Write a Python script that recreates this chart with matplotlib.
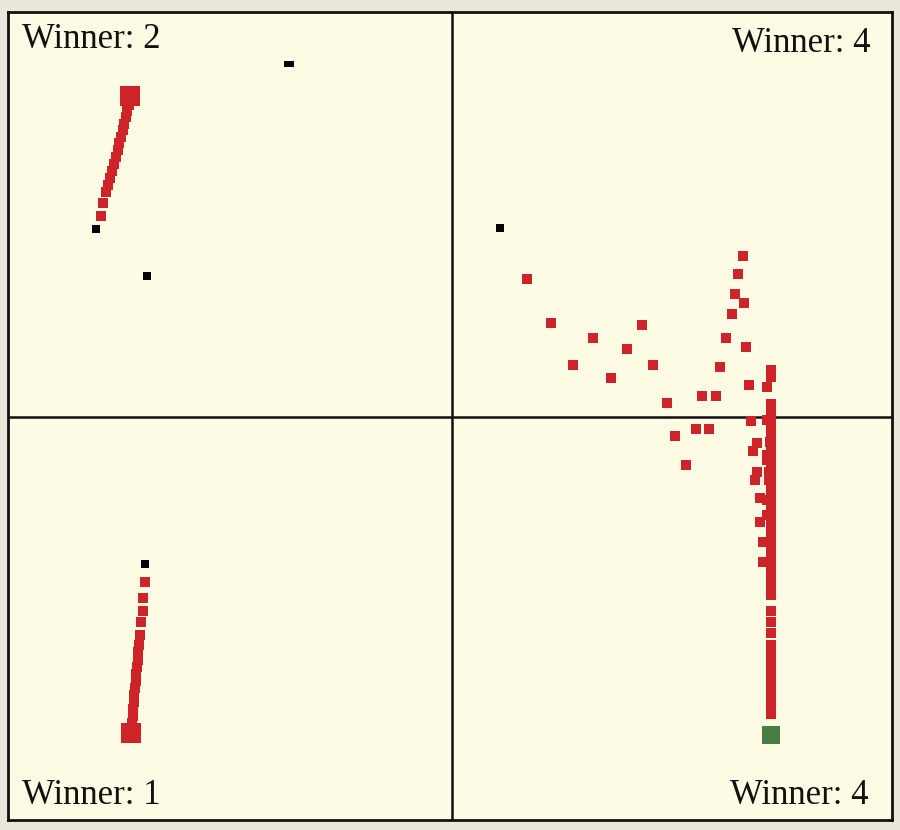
import matplotlib
matplotlib.use("Agg")
import matplotlib.pyplot as plt

# ---- data (board coordinates, y grows downward) ----
tl_red_x = [101, 103, 106, 108, 110, 112, 114, 116, 118, 119, 121, 123, 124, 126, 127, 129, 130]
tl_red_y = [216, 203, 192, 185, 178, 171, 164, 157, 150, 143, 137, 130, 124, 117, 111, 105, 100]
tl_big_x = [130]
tl_big_y = [96]
tl_black_x = [96, 147]
tl_black_y = [229, 276]
tl_flat_x = [289]
tl_flat_y = [64]

bl_red_x = [145, 143, 143, 141, 140, 139, 138, 138, 137, 136, 136, 135, 134, 134, 133, 133, 132]
bl_red_y = [582, 598, 611, 622, 635, 645, 652, 660, 667, 674, 681, 688, 695, 702, 709, 716, 723]
bl_big_x = [131]
bl_big_y = [733]
bl_black_x = [145]
bl_black_y = [564]

right_black_x = [500]
right_black_y = [228]
right_red_x = [527, 551, 593, 642, 627, 573, 653, 611, 667, 702, 716, 743, 738, 735, 744, 732,
               726, 746, 720, 749, 767, 696, 709, 675, 686, 751, 767, 757, 753, 770, 767, 767,
               757, 755, 769, 769, 760, 767, 767, 760, 763, 763]
right_red_y = [279, 323, 338, 325, 349, 365, 365, 378, 403, 396, 396, 256, 274, 294, 303, 314,
               338, 347, 367, 385, 387, 429, 429, 436, 465, 421, 420, 443, 451, 442, 455, 460,
               472, 480, 472, 480, 498, 500, 515, 522, 542, 562]
col_x = 771
col_y = [370, 377, 404, 410, 417, 425, 433, 440, 448, 455, 462, 470, 477, 485, 492, 500, 507,
         515, 522, 530, 537, 545, 552, 560, 567, 575, 582, 589, 595, 611, 622, 633, 645, 652,
         659, 666, 673, 680, 687, 694, 701, 708, 714]
green_x = [771]
green_y = [735]

labels = ["Winner: 2", "Winner: 4", "Winner: 1", "Winner: 4"]

RED = "#cd2329"
BLACK = "#050505"
GREEN = "#4a7d46"

fig = plt.figure(figsize=(9, 8.3), dpi=100, facecolor="#e9e7da")
ax = fig.add_axes([8 / 900, 1 - 820 / 830, 884 / 900, 808 / 830])
ax.set_facecolor("#fdfbe3")
ax.set_xlim(8, 892)
ax.set_ylim(820, 12)
ax.set_xticks([])
ax.set_yticks([])
for sp in ax.spines.values():
    sp.set_linewidth(2)
    sp.set_color("#111111")

ax.axvline(452, color="#111111", lw=1.8, zorder=1)
ax.axhline(417, color="#111111", lw=1.8, zorder=1)

small = 46
blk = 36
flat = [(-1, -0.55), (1, -0.55), (1, 0.55), (-1, 0.55)]
ax.scatter(tl_red_x, tl_red_y, s=small, marker="s", c=RED, linewidths=0, zorder=3)
ax.scatter(tl_big_x, tl_big_y, s=210, marker="s", c=RED, linewidths=0, zorder=3)
ax.scatter(tl_black_x, tl_black_y, s=blk, marker="s", c=BLACK, linewidths=0, zorder=3)
ax.scatter(tl_flat_x, tl_flat_y, s=46, marker=flat, c=BLACK, linewidths=0, zorder=3)

ax.scatter(bl_red_x, bl_red_y, s=small, marker="s", c=RED, linewidths=0, zorder=3)
ax.scatter(bl_big_x, bl_big_y, s=210, marker="s", c=RED, linewidths=0, zorder=3)
ax.scatter(bl_black_x, bl_black_y, s=blk, marker="s", c=BLACK, linewidths=0, zorder=3)

ax.scatter(right_black_x, right_black_y, s=blk, marker="s", c=BLACK, linewidths=0, zorder=3)
ax.scatter(right_red_x, right_red_y, s=small, marker="s", c=RED, linewidths=0, zorder=3)
ax.scatter([col_x] * len(col_y), col_y, s=small, marker="s", c=RED, linewidths=0, zorder=3)
ax.scatter(green_x, green_y, s=170, marker="s", c=GREEN, linewidths=0, zorder=3)

font = dict(family="Liberation Serif", fontsize=25, color="#111111")
ax.text(22, 48, labels[0], ha="left", va="baseline", **font)
ax.text(870, 52, labels[1], ha="right", va="baseline", **font)
ax.text(22, 804, labels[2], ha="left", va="baseline", **font)
ax.text(869, 804, labels[3], ha="right", va="baseline", **font)

fig.savefig("out.png", dpi=100, facecolor=fig.get_facecolor())
